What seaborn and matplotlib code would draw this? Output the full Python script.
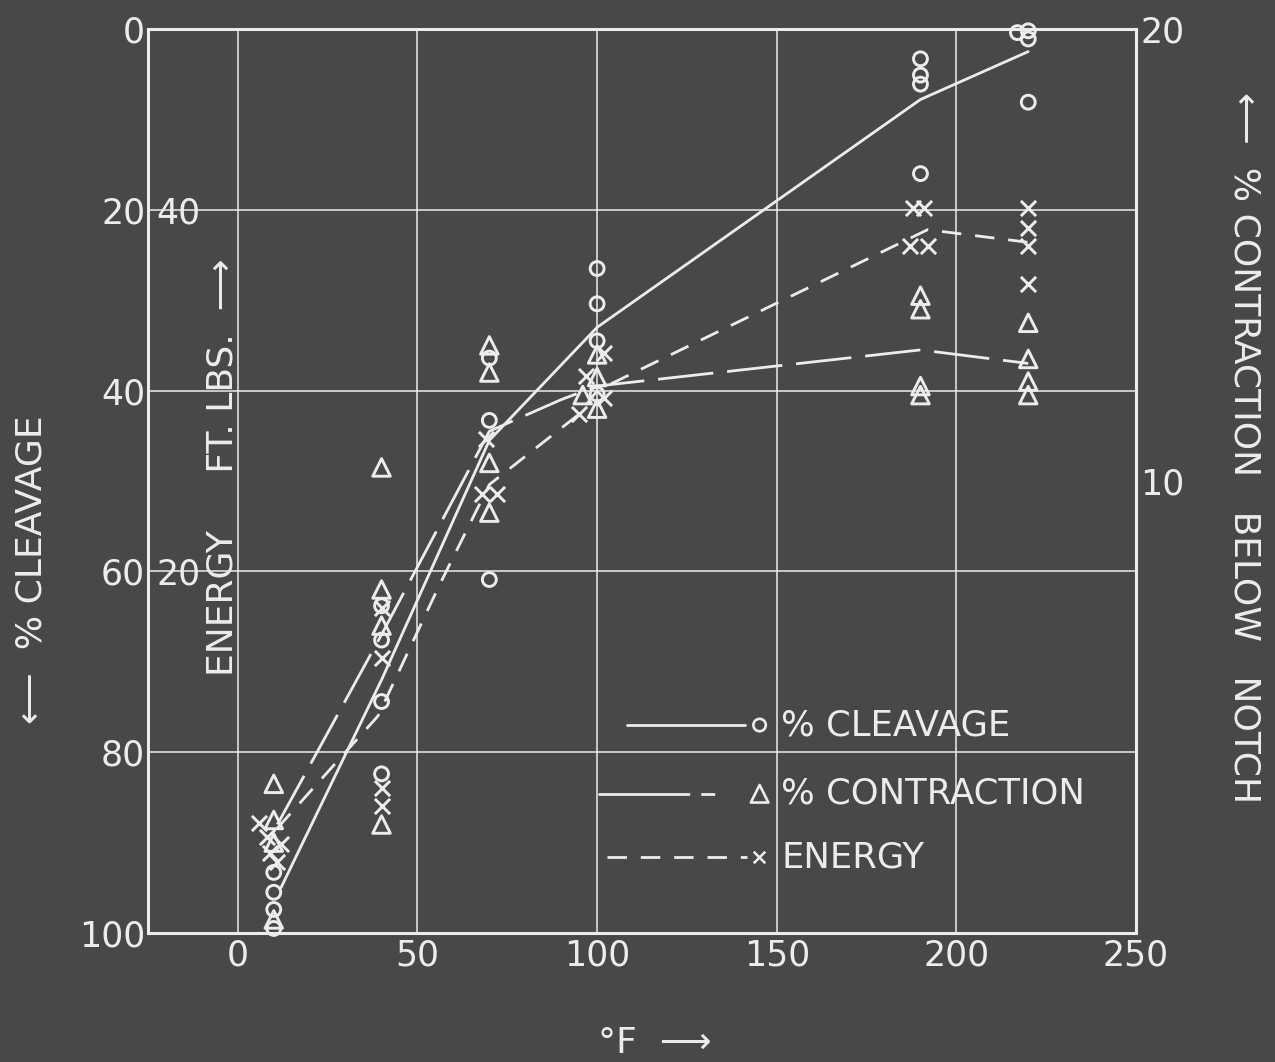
import matplotlib
matplotlib.use("Agg")
import matplotlib.pyplot as plt
import seaborn as sns
import pandas as pd

BG = '#484848'
FG = '#ececec'

# test points (temperature in deg F)
cleavage_temp = [10, 10, 10, 10, 40, 40, 40, 40, 70, 70, 70,
                 100, 100, 100, 100, 190, 190, 190, 190, 217, 220, 220, 220]
cleavage_pct = [93.3, 95.5, 97.4, 99.5, 63.8, 67.6, 74.4, 82.4, 36.4, 43.3, 60.9,
                26.5, 30.4, 34.5, 40.4, 3.3, 5.1, 6.1, 16.0, 0.4, 0.2, 1.1, 8.1]

contraction_temp = [10, 10, 10, 10, 40, 40, 40, 40, 70, 70, 70, 70,
                    100, 100, 96, 100, 190, 190, 190, 190, 220, 220, 220, 220]
contraction_pct = [3.3, 2.5, 2.0, 0.3, 10.3, 7.6, 6.8, 2.4, 13.0, 12.4, 10.4, 9.3,
                   12.8, 12.3, 11.9, 11.6, 14.1, 13.8, 12.1, 11.9, 13.5, 12.7, 12.2, 11.9]

energy_temp = [6, 8, 12, 9, 11, 40, 40, 40, 40, 69, 68, 72,
               102, 97, 102, 95, 188, 191, 187, 192, 220, 220, 220, 220]
energy_ftlb = [6.1, 5.3, 4.9, 4.4, 3.9, 18.0, 15.2, 8.0, 7.0, 27.3, 24.3, 24.3,
               32.1, 30.8, 29.6, 28.7, 40.1, 40.1, 38.0, 38.0, 40.1, 39.0, 38.0, 35.9]

# hand drawn curves
cleavage_curve_temp = [12, 40, 70, 100, 190, 220]
cleavage_curve_pct = [95, 72, 45.5, 33, 7.8, 2.5]
contraction_curve_temp = [11, 40, 70, 90, 100, 190, 220]
contraction_curve_pct = [2.4, 6.6, 11.1, 11.8, 12.1, 12.9, 12.6]
energy_curve_temp = [11, 39, 56, 70, 95, 100, 192, 220]
energy_curve_ftlb = [5.8, 12.0, 19.2, 24.8, 28.7, 30.0, 38.9, 38.2]

x_ticks = [0, 50, 100, 150, 200, 250]
cleavage_ticks = [0, 20, 40, 60, 80, 100]
energy_ticks = [20, 40]
contraction_ticks = [10, 20]

sns.set_theme(style='dark', rc={
    'figure.facecolor': BG, 'axes.facecolor': BG, 'savefig.facecolor': BG,
    'axes.edgecolor': FG, 'text.color': FG, 'xtick.color': FG, 'ytick.color': FG,
    'grid.color': FG, 'axes.grid': False,
})
plt.rcParams['font.family'] = ['DejaVu Sans']

fig = plt.figure(figsize=(12.75, 10.62), dpi=100)
ax = fig.add_axes([0.1161, 0.1215, 0.7749, 0.8512])
ax_e = ax.twinx()
ax_c = ax.twinx()

line_kw = dict(color=FG, linewidth=2.0)
open_kw = dict(facecolor='none', edgecolor=FG, linewidth=2.1, clip_on=False, zorder=5)

# % cleavage (left axis, inverted)
sns.lineplot(x=cleavage_curve_temp, y=cleavage_curve_pct, ax=ax, **line_kw)
sns.scatterplot(x=cleavage_temp, y=cleavage_pct, ax=ax, marker='o', s=100, **open_kw)

# energy (left axis, inner scale)
sns.lineplot(x=energy_curve_temp, y=energy_curve_ftlb, ax=ax_e,
             linestyle=(0, (7, 5)), **line_kw)
sns.scatterplot(x=energy_temp, y=energy_ftlb, ax=ax_e, marker='x', s=120,
                color=FG, linewidth=2.1, clip_on=False, zorder=5)

# % contraction (right axis)
sns.lineplot(x=contraction_curve_temp, y=contraction_curve_pct, ax=ax_c,
             linestyle=(0, (20, 5)), **line_kw)
sns.scatterplot(x=contraction_temp, y=contraction_pct, ax=ax_c, marker='^', s=160, **open_kw)

ax.set_xlim(-25, 250)
ax.set_ylim(100, 0)
ax_e.set_ylim(0, 50)
ax_c.set_ylim(0, 20)

ax.set_xticks(x_ticks)
ax.set_yticks(cleavage_ticks)
ax.grid(True, color=FG, linewidth=1.1)
ax.tick_params(axis='both', length=0, labelsize=25, colors=FG)
ax.tick_params(axis='x', pad=4)
ax.tick_params(axis='y', pad=2)
for s in ax.spines.values():
    s.set_color(FG)
    s.set_linewidth(2.2)

ax_e.set_yticks(energy_ticks)
ax_e.yaxis.tick_left()
ax_e.tick_params(axis='y', length=0, pad=-38, labelsize=25, colors=FG,
                 labelleft=True, labelright=False)
ax_c.set_yticks(contraction_ticks)
ax_c.tick_params(axis='y', length=0, pad=3, labelsize=25, colors=FG)
for a in (ax_e, ax_c):
    a.grid(False)
    for s in a.spines.values():
        s.set_visible(False)
    a.set_ylabel('')
ax.set_xlabel('')
ax.set_ylabel('')

# legend drawn by hand, no frame
tr = ax.transAxes
leg = [
    ('% CLEAVAGE', '-', 'o', 0.485, 0.604, 0.230, 80),
    ('% CONTRACTION', (0, (33, 4, 5, 60)), '^', 0.455, 0.579, 0.154, 160),
    ('ENERGY', (0, (7, 5)), 'x', 0.465, 0.606, 0.084, 70),
]
for label, ls, mk, x0, x1, y, size in leg:
    ax.plot([x0, x1], [y, y], transform=tr, color=FG, linewidth=2.0, linestyle=ls)
    if mk == 'x':
        ax.scatter([0.618], [y], transform=tr, marker=mk, s=size, color=FG, linewidth=1.8)
    else:
        ax.scatter([0.619], [y], transform=tr, marker=mk, s=size,
                   facecolor='none', edgecolor=FG, linewidth=1.9)
    ax.text(0.641, y, label, transform=tr, fontsize=25.5, color=FG, va='center', ha='left')

# axis titles
ax.text(0.075, 0.515, 'ENERGY     FT. LBS.  \u27f6', transform=tr, rotation=90,
        fontsize=26, color=FG, ha='center', va='center')
fig.text(32 / 1275, 1 - 570 / 1062, '\u27f5  % CLEAVAGE', rotation=90,
         fontsize=26, color=FG, ha='center', va='center')
fig.text(1245 / 1275, 1 - 448 / 1062, '\u27f5  % CONTRACTION   BELOW   NOTCH', rotation=270,
         fontsize=26, color=FG, ha='center', va='center')
fig.text(655 / 1275, 1 - 1043 / 1062, '\u00b0F  \u27f6', fontsize=26, color=FG,
         ha='center', va='center')

fig.savefig('out.png', dpi=100, facecolor=BG)
